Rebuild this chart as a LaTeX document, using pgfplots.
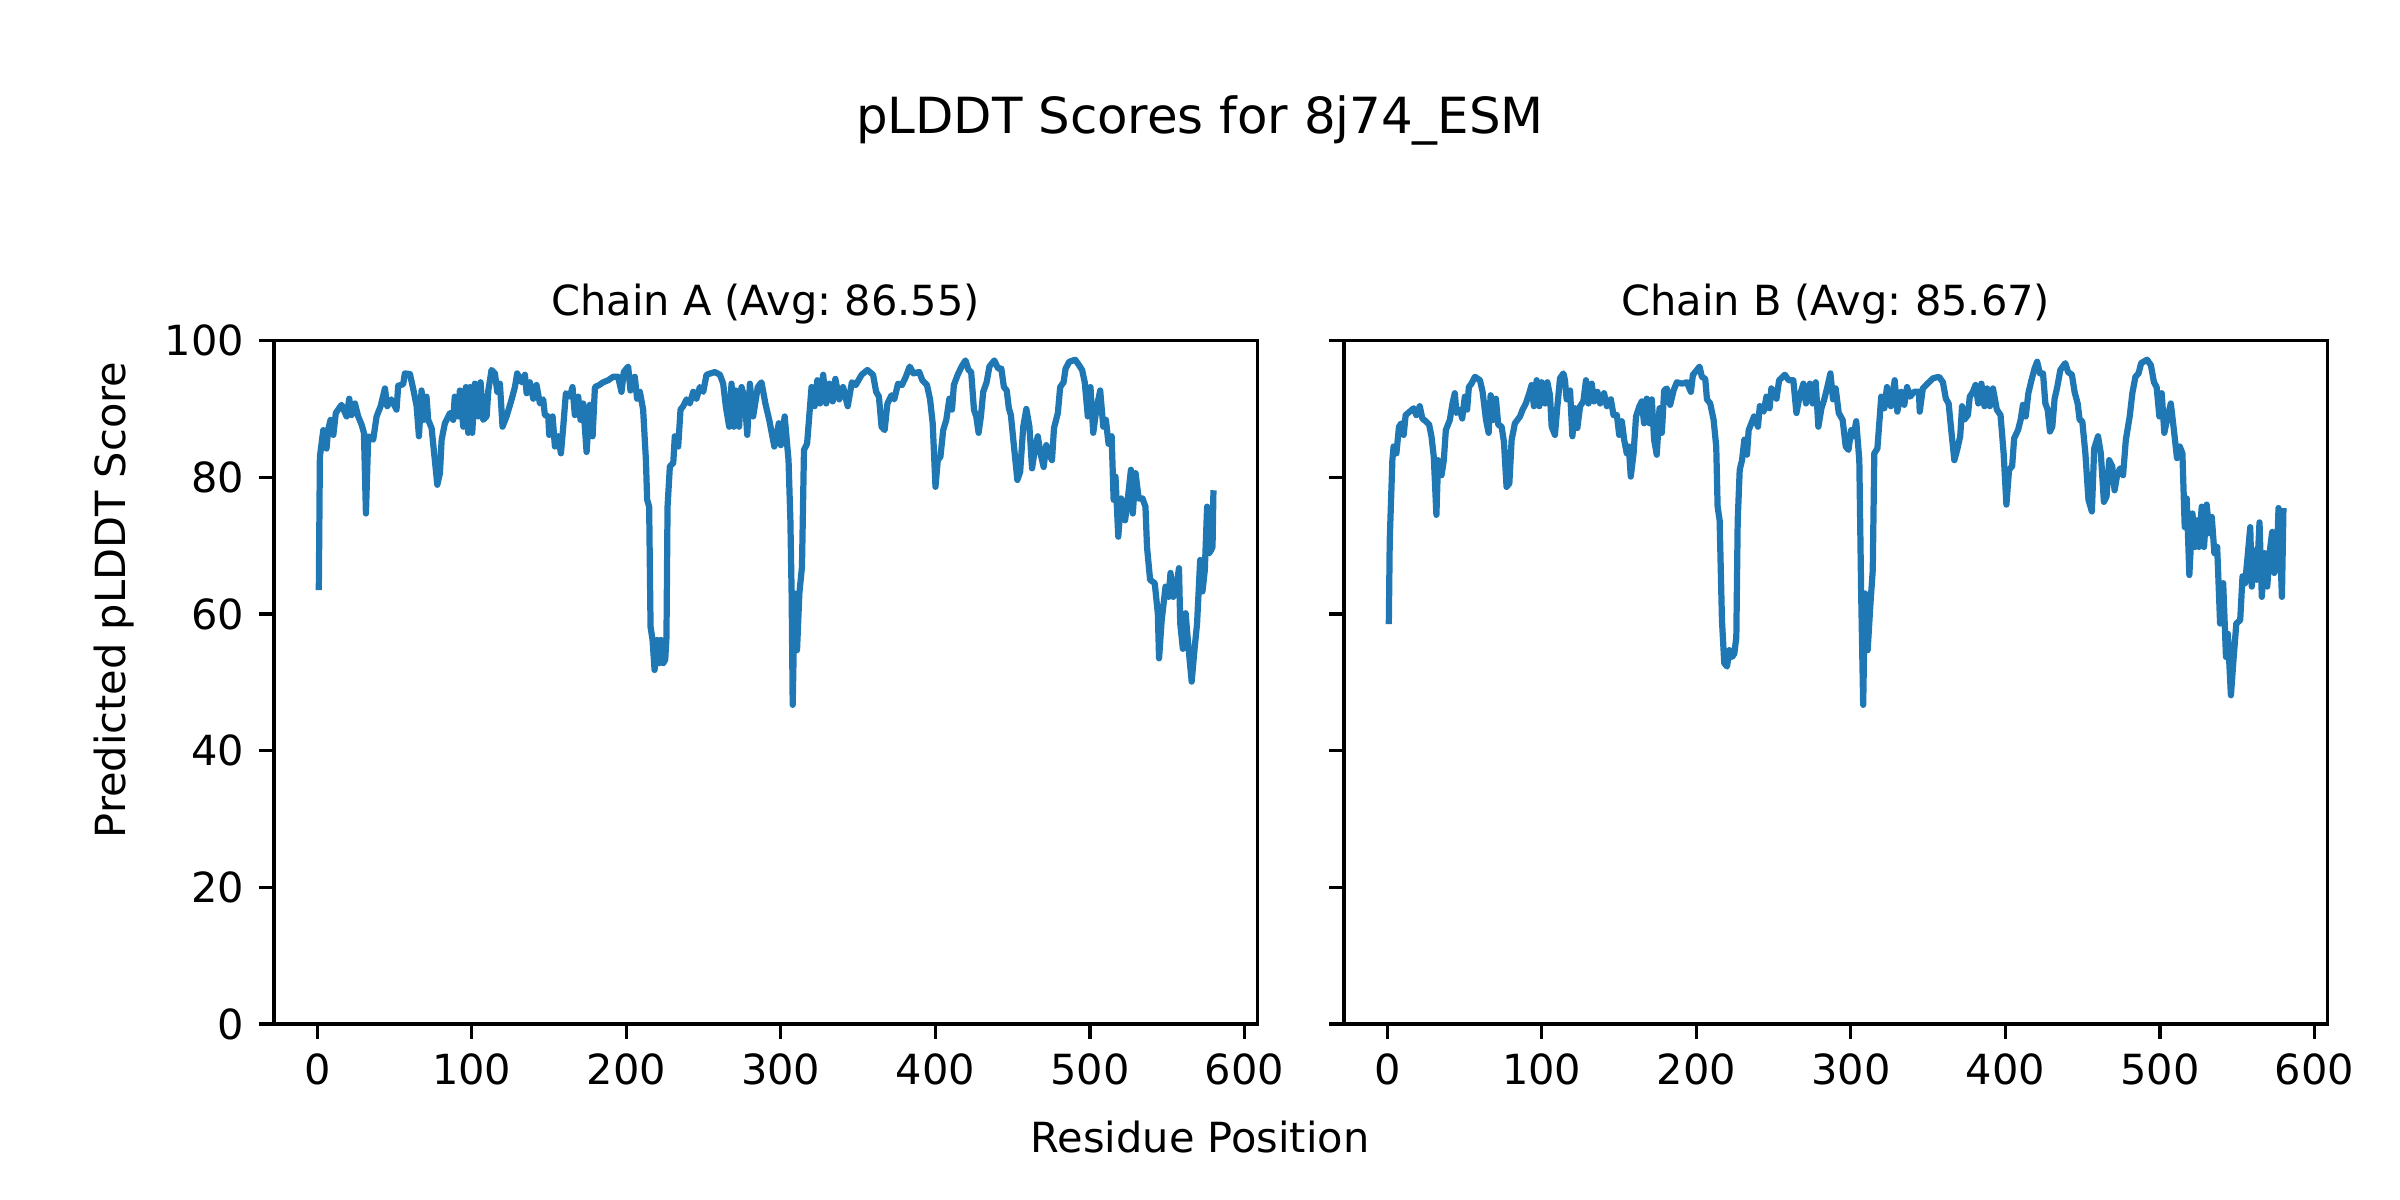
\documentclass[border=0pt]{standalone}
\usepackage{fontspec}
\setmainfont{DejaVu Sans}
\usepackage{pgfplots}
\pgfplotsset{compat=1.18}
\definecolor{mplblue}{HTML}{1F77B4}
\frenchspacing

% one chain panel, sizes measured off the 2400x1200 (300 dpi) reference
\pgfplotsset{
  chain/.style={
    scale only axis, width=3.2777in, height=2.278in,
    anchor=south west,
    xmin=-28, xmax=608.4, ymin=0, ymax=100,
    xtick={0,100,...,600}, ytick={0,20,...,100},
    tick align=outside, xtick pos=bottom, ytick pos=left,
    major tick length=3.5pt,
    tick style={black, line width=0.8pt},
    axis line style={line width=0.8pt},
    /pgf/number format/assume math mode=true,
    tick label style={font=\fontsize{10}{12}\selectfont},
    xticklabel style={inner sep=0pt, anchor=north, yshift=-3.5pt},
    yticklabel style={inner sep=0pt, anchor=east, xshift=-3.5pt},
    % the default title style already shifts 6pt up
    title style={at={(0.5,1)}, anchor=base, inner sep=0pt,
      font=\fontsize{10}{12}\selectfont},
  },
  score/.style={mplblue, line width=1.5pt, line join=round, no markers},
}

\begin{document}
\begin{tikzpicture}
\path[use as bounding box] (0,0) rectangle (8in,4in);

\node[anchor=base, font=\fontsize{12}{14}\selectfont] at (4in,3.5533in)
  {pLDDT Scores for 8j74\_ESM};
\node[anchor=base, font=\fontsize{10}{12}\selectfont] at (4in,0.16in)
  {Residue Position};
\node[anchor=base, rotate=90, font=\fontsize{10}{12}\selectfont] at (0.4167in,2in)
  {Predicted pLDDT Score};

\begin{axis}[chain, at={(0.91333in,0.58667in)}, title={Chain A (Avg: 86.55)}]
\addplot[score] coordinates {
(1,63.5) (1.7,83.0) (3.9,86.9) (6,84.2) (7,86.9) (8.6,88.4) (10.4,86.2) (12,89.4)
(15.7,90.6) (19,88.9) (20.7,91.5) (22.2,89.1) (24.4,90.8) (26.5,88.9) (28.7,87.7)
(30.2,86.5) (31.5,74.7) (33,86.0) (36.2,85.5) (38.4,88.9) (41,90.4) (43.8,93.0)
(45.3,90.4) (48,91.4) (51.3,89.9) (52.4,93.4) (55.6,93.6) (56.7,95.2) (60,95.1)
(62.5,92.5) (64.3,90.4) (65.8,86.0) (67.5,92.7) (69,88.4) (70.7,91.8) (71.8,88.4)
(74,87.2) (76.1,82.5) (77.7,78.9) (79.4,80.6) (80.5,85.5) (82.6,87.9) (85.9,89.4)
(88,88.4) (89,91.8) (91.2,88.9) (92.3,92.7) (94.5,87.4) (96.2,93.2) (97.7,86.5)
(98.8,93.2) (100.3,86.5) (102,93.7) (104.2,88.9) (105.7,93.9) (107.4,88.4)
(109.6,88.9) (110.7,92.7) (112.8,95.7) (115,95.2) (116.5,92.5) (118.2,93.7)
(119.9,87.4) (122.5,88.9) (125.8,91.4) (127.9,93.2) (129.4,95.2) (132.2,93.9)
(134.4,95.0) (135.5,92.3) (137.6,93.9) (139.8,91.5) (141.9,93.5) (144.1,90.8)
(146.2,91.4) (147.3,89.1) (149.5,88.9) (150.1,86.2) (152.3,88.9) (153.8,84.5)
(155.9,86.0) (157.7,83.5) (159.2,87.4) (160.9,92.3) (163.5,91.8) (165.2,93.2)
(166.7,89.1) (168.9,91.8) (170.4,88.4) (172.1,90.8) (174.3,83.7) (176.4,90.6)
(178.2,86.0) (179.7,93.2) (182.5,93.5) (185,93.9) (188.3,94.2) (191.5,94.7)
(194.7,94.7) (196.9,92.5) (198.4,95.4) (201.2,96.2) (202.7,92.7) (205.5,94.7)
(207,91.5) (208.8,92.5) (210.9,89.9) (212.7,82.5) (213.5,76.7) (214.8,75.7)
(215.7,58.1) (217,56.2) (218.3,51.8) (220,56.2) (221.3,52.8) (222.4,56.2)
(223.9,52.8) (225.2,53.3) (226,56.6) (226.7,75.7) (228.2,81.6) (230.4,82.1)
(231.4,86.0) (233.6,84.5) (235.1,89.9) (236.8,90.4) (239,91.4) (241.1,90.8)
(243.3,92.5) (245.4,91.5) (247.6,93.2) (249.8,92.5) (251.9,95.0) (257.3,95.4)
(260.6,95.0) (262.7,93.7) (264.4,90.4) (266.6,87.4) (268.1,93.7) (269.6,87.4)
(270.9,92.7) (273,87.4) (274.6,93.2) (276.7,91.4) (278.3,86.2) (280,93.7)
(282.1,88.9) (285.1,93.2) (287.5,93.9) (290,90.8) (292.5,88.4) (295.8,84.5)
(298.7,87.9) (300,84.7) (302.5,88.9) (305,82.5) (306.2,73.7) (307,63.0)
(307.7,46.7) (309,63.0) (310.5,54.7) (312,63.0) (313.7,66.9) (315,84.0)
(317,84.9) (319.9,93.2) (321.9,90.4) (323.6,94.2) (325.4,90.8) (327.4,95.0)
(329.4,90.8) (331.4,93.7) (333.6,91.1) (335.3,94.4) (337.8,91.4) (340.3,93.2)
(343.3,90.4) (346,93.9) (348.5,93.5) (352.3,95.0) (356,95.7) (359.7,95.0)
(361.7,92.5) (363.5,91.8) (365.2,87.4) (367.2,86.9) (369,90.8) (371.7,92.0)
(373.4,91.4) (375.9,93.7) (378.4,93.5) (380.9,94.7) (383.4,96.2) (385.9,95.2)
(389.6,95.4) (391.6,94.2) (394.6,93.5) (396.6,91.4) (398.3,87.9) (400.1,78.6)
(401.6,82.5) (403.3,83.0) (405.1,86.9) (407.1,88.4) (409.1,91.5) (410.8,89.9)
(412,93.5) (414.5,95.0) (417,96.2) (419.5,97.1) (421.5,95.7) (423.2,95.4)
(425,89.9) (426.5,88.9) (428,86.5) (429.5,88.9) (431,92.5) (433.2,93.9)
(435,96.2) (438.2,97.1) (440.7,95.9) (442.7,95.9) (444.4,93.2) (446.2,92.7)
(447.6,90.1) (448.9,89.1) (450.6,85.2) (453.1,79.6) (454.9,80.8) (456.9,87.4)
(458.9,90.0) (460.9,87.4) (462.6,81.3) (464.4,84.0) (466.3,86.0) (468.1,83.5)
(470.1,81.5) (471.8,84.7) (473.8,83.3) (475.5,82.5) (476.8,87.2) (479.3,89.4)
(480.8,93.2) (483,93.9) (484.3,95.9) (486.7,96.9) (490.5,97.2) (493,96.4)
(495,95.7) (496.7,93.9) (498.7,88.9) (500.4,93.2) (502.2,86.5) (504.2,89.9)
(506.7,92.7) (508.7,87.4) (510.4,88.4) (512.1,84.9) (514.1,86.0) (515.4,76.7)
(516.6,80.1) (518.4,71.3) (520.3,76.9) (522.8,73.7) (524.6,76.9) (526.6,81.1)
(527.8,74.7) (529.6,80.6) (531.6,76.9) (534.1,76.9) (536,75.7) (537,69.8)
(539,65.0) (542,64.5) (544,60.1) (544.8,53.5) (546.5,59.1) (549,64.0)
(551,62.5) (552.2,66.0) (554,62.5) (556,64.0) (557.7,66.7) (558.5,58.6)
(560.2,54.9) (562,60.1) (563.4,56.2) (565.9,50.1) (567.7,54.7) (569.4,58.6)
(571.4,67.9) (572.9,63.3) (574.4,66.4) (575.9,75.7) (577.2,68.9) (578.4,69.3)
(579.4,69.8) (580,78.1)
};
\end{axis}

\begin{axis}[chain, at={(4.48in,0.58667in)}, yticklabels={},
  title={Chain B (Avg: 85.67)}]
\addplot[score] coordinates {
(1,58.5) (1.6,70.8) (3.3,82.5) (4.1,84.5) (5.9,83.5) (7.6,87.4) (9.1,87.9)
(10.6,86.2) (11.9,89.1) (14.5,89.6) (17.1,90.1) (18.8,89.1) (21,90.4) (22.7,88.6)
(24.9,88.2) (27.1,87.7) (28.6,86.0) (30.1,83.0) (31.8,74.5) (32.9,82.5)
(35.1,80.3) (36.6,82.5) (37.9,86.9) (40.5,88.4) (42.2,90.8) (43.7,92.3)
(44.8,89.4) (47,89.9) (48.5,88.6) (50.2,91.8) (51.7,89.9) (52.8,93.2) (54.5,93.7)
(56.7,94.7) (60,94.2) (61.7,92.5) (63.9,88.4) (65.6,86.5) (66.9,92.0) (68.6,88.4)
(70.3,91.5) (71.8,87.7) (74,87.4) (75.5,85.2) (77.2,78.6) (79,79.1) (80.5,85.5)
(82.6,87.9) (85.9,88.9) (87.6,89.9) (89.7,90.8) (91.9,92.3) (93.4,93.5)
(94.9,90.4) (96.7,94.2) (98.4,90.4) (99.9,93.9) (102.1,90.8) (103.6,93.9)
(105.3,92.0) (106.4,87.4) (108.5,86.2) (110.1,90.4) (111.8,94.5) (114,95.2)
(115,94.2) (116.1,91.4) (118.3,92.7) (119.8,86.0) (121.5,90.1) (123,87.2)
(124.8,90.4) (126.9,91.1) (128.6,94.2) (130.2,90.8) (132.3,93.7) (133.9,91.1)
(136,92.5) (137.8,90.8) (140.3,92.3) (142.1,90.4) (144.7,91.4) (146.4,89.1)
(148.6,89.1) (150.1,86.2) (151.8,88.2) (153.3,85.5) (155,83.5) (156.3,84.5)
(157.6,80.1) (159.4,83.5) (161,88.9) (163.2,90.4) (164.7,91.1) (166.2,87.9)
(167.9,91.5) (169.7,87.9) (171.2,91.4) (172.7,85.5) (174.4,83.3) (176.2,90.1)
(177.7,86.5) (179.2,92.7) (180.9,93.0) (183.1,90.6) (185.3,92.7) (187.4,93.9)
(190.7,93.7) (193.9,93.9) (196.5,92.5) (197.8,95.0) (200.4,95.7) (202.1,96.2)
(203.6,94.7) (205.8,94.4) (206.9,91.4) (209,90.8) (211.2,88.4) (212.9,84.5)
(213.8,75.7) (215.1,73.7) (216.6,59.1) (218.1,52.8) (219.9,52.3) (221.4,54.7)
(223.1,53.7) (224.6,54.2) (225.9,56.6) (226.8,73.7) (228.1,81.1) (229.6,82.5)
(231.1,85.5) (232.8,83.3) (233.9,86.9) (237.4,88.9) (239.9,87.4) (241.1,90.4)
(243.6,89.6) (245.4,91.8) (247.4,90.1) (248.6,93.0) (251.9,91.5) (253.6,94.2)
(257.3,95.0) (259.8,94.2) (262.8,94.2) (264.8,89.4) (266.8,91.8) (269.3,93.7)
(271,90.8) (273.5,93.7) (275.3,90.8) (277.3,93.9) (279,87.4) (281,90.1)
(282.8,91.4) (284.8,93.2) (286.8,95.2) (288.5,91.4) (290.2,93.0) (292.2,89.4)
(294.7,88.4) (296.7,84.5) (298.5,84.0) (300.2,86.9) (301.7,86.0) (303.5,88.2)
(305.5,82.5) (306.7,63.0) (308,46.7) (309.2,63.0) (310.9,54.7) (312.7,61.5)
(314.2,66.4) (315.2,83.5) (317.2,84.2) (319.7,91.8) (321.7,90.1) (323.4,93.2)
(325.9,90.4) (328.4,94.2) (330.1,89.6) (332.6,92.5) (334.6,90.6) (336.4,93.2)
(338.4,91.8) (340.9,92.5) (344.1,92.5) (344.6,89.6) (346.6,93.0) (349.6,93.7)
(353.3,94.5) (357.1,94.7) (359.6,93.9) (361.5,91.5) (363.3,90.8) (365,86.9)
(367,82.5) (368.8,84.0) (370.8,86.0) (372,90.4) (373.3,88.4) (375.8,89.1)
(377,91.8) (379,92.5) (380.7,93.5) (382.5,90.8) (384.5,93.7) (386.5,90.4)
(388.2,93.0) (390,90.4) (392,93.0) (394.5,89.9) (396.9,89.1) (398.9,83.5)
(400.7,76.0) (402.4,81.1) (404.4,81.6) (405.7,85.7) (408.2,86.9) (409.9,88.4)
(411.4,90.6) (413.2,88.9) (414.9,92.3) (416.9,94.2) (418.9,95.9) (420.6,96.9)
(422.4,95.2) (424.4,95.2) (425.9,90.8) (427.4,89.9) (428.9,86.7) (430.4,87.4)
(431.9,91.5) (433.6,93.2) (435.6,95.7) (438.8,96.7) (440.6,95.4) (443.1,95.0)
(444.8,92.5) (446.8,90.8) (448.1,88.4) (449.8,88.2) (451.8,83.5) (453.8,76.7)
(456,75.0) (457.5,84.2) (460,86.0) (461.8,83.5) (463.8,76.4) (465.5,77.2)
(467.2,82.5) (469.2,81.6) (470.7,78.1) (472.2,80.1) (474.2,81.3) (476.2,80.3)
(478,85.5) (480.5,88.9) (482.2,92.3) (484.2,94.7) (486.2,95.2) (487.9,96.7)
(491.7,97.2) (494.2,96.4) (496.2,93.9) (497.9,93.2) (499.7,88.9) (501.2,92.3)
(502.9,86.5) (504.6,88.4) (507.1,90.8) (509.1,86.9) (511.1,82.8) (512.9,84.5)
(514.6,83.5) (516.1,72.7) (517.4,76.9) (519.1,65.7) (521.1,74.7) (522.8,69.8)
(524.1,73.7) (525.3,69.8) (527.1,75.7) (528.6,69.8) (530.3,76.0) (532.1,71.8)
(533.6,74.2) (535.3,68.9) (537.1,69.8) (539,58.6) (541,64.5) (542.8,53.7)
(544,57.1) (546,48.1) (547.8,53.7) (549.5,58.6) (552,59.1) (553.5,65.5)
(555.2,64.5) (557,68.9) (558.5,72.7) (559.5,64.0) (561,69.3) (562.7,65.0)
(564.5,73.4) (566,62.5) (567.7,68.9) (569.5,64.0) (571,68.9) (572.7,72.0)
(574,66.0) (575.7,67.9) (576.8,75.5) (578,68.9) (579,62.5) (580,75.5)
};
\end{axis}
\end{tikzpicture}
\end{document}
